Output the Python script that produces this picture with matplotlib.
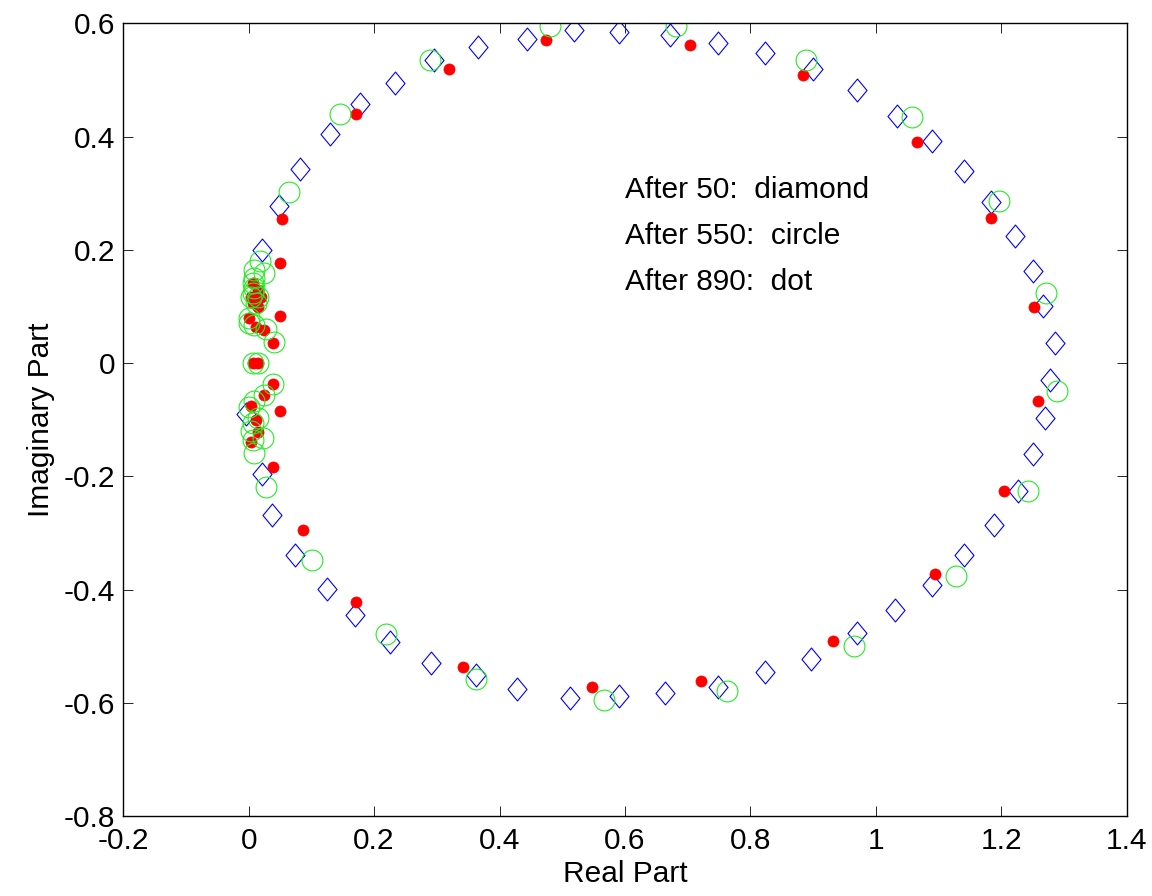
import numpy as np
from matplotlib import pyplot as plt
from matplotlib.path import Path
from matplotlib.ticker import FuncFormatter, MultipleLocator

plt.rcParams['font.family'] = ['Liberation Sans', 'DejaVu Sans']
plt.rcParams['axes.unicode_minus'] = False

# After 50 iterations (diamonds)
re_50 = [0.022, 0.049, 0.082, 0.130, 0.178, 0.234, 0.296, 0.366, 0.443, 0.518,
         0.591, 0.672, 0.749, 0.824, 0.900, 0.970, 1.033, 1.089, 1.141, 1.184,
         1.222, 1.251, 1.267, 1.285, 1.277, 1.270, 1.251, 1.226, 1.189, 1.141,
         1.089, 1.030, 0.970, 0.897, 0.824, 0.749, 0.664, 0.591, 0.513, 0.428,
         0.363, 0.291, 0.226, 0.170, 0.125, 0.074, 0.037, 0.022, -0.004]
im_50 = [0.199, 0.277, 0.342, 0.404, 0.457, 0.494, 0.535, 0.559, 0.572, 0.588,
         0.584, 0.579, 0.566, 0.547, 0.519, 0.482, 0.436, 0.392, 0.339, 0.284,
         0.224, 0.162, 0.100, 0.035, -0.030, -0.096, -0.161, -0.226, -0.285, -0.338,
         -0.392, -0.436, -0.477, -0.523, -0.546, -0.571, -0.583, -0.588, -0.592, -0.576,
         -0.551, -0.530, -0.493, -0.445, -0.399, -0.338, -0.269, -0.195, -0.089]

# After 550 iterations (circles)
re_550 = [0.481, 0.289, 0.146, 0.065, 0.682, 0.888, 1.058, 1.197, 1.272, 1.289,
          1.242, 1.128, 0.966, 0.762, 0.567, 0.363, 0.219, 0.101, 0.028,
          0.018, 0.009, 0.025, 0.009, 0.007, 0.009, 0.007, 0.004, 0.015, 0.012,
          0.001, 0.001, 0.009, 0.028, 0.041, 0.007, 0.015, 0.039, 0.025, 0.009,
          0.001, 0.015, 0.007, 0.004, 0.023, 0.007, 0.009]
im_550 = [0.595, 0.536, 0.439, 0.303, 0.595, 0.536, 0.434, 0.287, 0.123, -0.050,
          -0.225, -0.376, -0.500, -0.578, -0.594, -0.557, -0.479, -0.348, -0.218,
          0.181, 0.164, 0.160, 0.150, 0.141, 0.132, 0.123, 0.116, 0.116, 0.106,
          0.079, 0.070, 0.067, 0.060, 0.037, 0.000, 0.000, -0.036, -0.057, -0.066,
          -0.078, -0.097, -0.106, -0.119, -0.133, -0.136, -0.159]

# After 890 iterations (dots)
re_890 = [0.474, 0.320, 0.171, 0.053, 0.050, 0.703, 0.884, 1.065, 1.183, 1.253,
          1.258, 1.205, 1.095, 0.932, 0.722, 0.548, 0.342, 0.171, 0.087, 0.039,
          0.007, 0.015, 0.004, 0.020, 0.007, 0.015, 0.001, 0.050, 0.012, 0.025,
          0.039, 0.007, 0.015, 0.039, 0.025, 0.050, 0.004, 0.012, 0.015, 0.004]
im_890 = [0.570, 0.520, 0.439, 0.254, 0.176, 0.561, 0.508, 0.390, 0.257, 0.099,
          -0.066, -0.225, -0.373, -0.491, -0.562, -0.572, -0.537, -0.422, -0.295, -0.184,
          0.141, 0.129, 0.116, 0.116, 0.107, 0.099, 0.079, 0.083, 0.063, 0.058,
          0.035, 0.000, 0.000, -0.036, -0.057, -0.085, -0.075, -0.101, -0.122, -0.140]

notes = ['After 50:  diamond', 'After 550:  circle', 'After 890:  dot']

# MATLAB style diamond (a bit taller than wide)
diamond = Path([(0, 1), (0.83, 0), (0, -1), (-0.83, 0), (0, 1)],
               [Path.MOVETO, Path.LINETO, Path.LINETO, Path.LINETO, Path.CLOSEPOLY])

fig = plt.figure(figsize=(11.52, 8.96), dpi=100)
ax = fig.add_axes([0.107, 0.089, 0.871, 0.885])

ax.plot(re_50, im_50, linestyle='none', marker=diamond, markersize=16.5,
        markerfacecolor='none', markeredgecolor='#0000ff', markeredgewidth=0.8)
ax.plot(re_890, im_890, linestyle='none', marker='o', markersize=8,
        markerfacecolor='#ff0000', markeredgecolor='#ff0000', markeredgewidth=0.5)
ax.plot(re_550, im_550, linestyle='none', marker='o', markersize=15,
        markerfacecolor='none', markeredgecolor='#22ee22', markeredgewidth=0.8)

for i, s in enumerate(notes):
    ax.text(0.600, 0.305 - i * 0.081, s, fontsize=21.5, va='center', ha='left')

ax.set_xlim(-0.2, 1.4)
ax.set_ylim(-0.8, 0.6)
ax.xaxis.set_major_locator(MultipleLocator(0.2))
ax.yaxis.set_major_locator(MultipleLocator(0.2))
fmt = FuncFormatter(lambda v, p: '%g' % round(v, 6))
ax.xaxis.set_major_formatter(fmt)
ax.yaxis.set_major_formatter(fmt)
ax.tick_params(direction='in', length=7, width=0.6, labelsize=21.5,
               top=True, right=True)
ax.tick_params(axis='y', pad=6)
ax.tick_params(axis='x', pad=8)
for sp in ax.spines.values():
    sp.set_linewidth(1.0)

ax.set_xlabel('Real Part', fontsize=21.5, labelpad=3)
ax.set_ylabel('Imaginary Part', fontsize=21.5, labelpad=6)

fig.savefig('out.png', dpi=100, facecolor='white')
